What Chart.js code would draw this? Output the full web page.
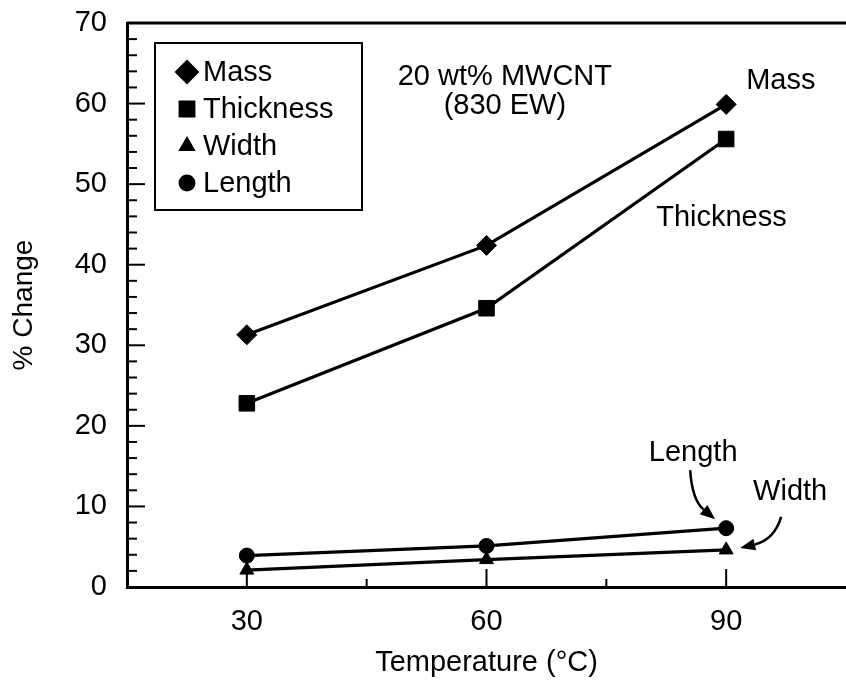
<!DOCTYPE html>
<html>
<head>
<meta charset="utf-8">
<script src="https://cdn.jsdelivr.net/npm/chart.js@4.4.0/dist/chart.umd.min.js"></script>
<style>
  html, body { margin: 0; padding: 0; background: #fff; overflow: hidden; }
  #wrap { width: 846px; height: 685px; }
  canvas { display: block; }
</style>
</head>
<body>
<div id="wrap"><canvas id="swellChart" width="846" height="685"></canvas></div>
<script>
// % change after soaking, 20 wt% MWCNT membrane
const temperatures = [30, 60, 90]
const massChange = [31.3, 42.4, 59.9]
const thicknessChange = [22.8, 34.6, 55.6]
const widthChange = [2.1, 3.4, 4.6]
const lengthChange = [3.9, 5.1, 7.3]
const xTickLabels = [30, 60, 90]
const yTickLabels = [0, 10, 20, 30, 40, 50, 60, 70]
const seriesNames = ['Mass', 'Thickness', 'Width', 'Length']

const FONT = '"Liberation Sans", Arial, Helvetica, sans-serif'
const BLACK = '#000'

const toPoints = (ys) => temperatures.map((t, i) => ({ x: t, y: ys[i] }))

function series(label, ys, style, radius) {
  return {
    label: label,
    data: toPoints(ys),
    showLine: true,
    borderColor: BLACK,
    backgroundColor: BLACK,
    borderWidth: 3.2,
    pointStyle: style,
    pointRadius: radius,
    pointBorderWidth: 1,
    pointHoverRadius: radius
  }
}

const legendSizes = { rectRot: 11, rect: 10.5, triangle: 8, circle: 7.5 }

// axes frame, inward ticks, boxed legend and the callouts
const decorations = {
  id: 'decorations',
  afterDraw(chart) {
    const { ctx, chartArea: a, scales: { x, y } } = chart
    ctx.save()
    ctx.strokeStyle = BLACK
    ctx.fillStyle = BLACK

    // top frame
    ctx.lineWidth = 3
    ctx.beginPath()
    ctx.moveTo(a.left, a.top)
    ctx.lineTo(a.right, a.top)
    ctx.stroke()

    // y ticks (minor every 2)
    ctx.lineWidth = 2
    for (let v = y.min; v <= y.max; v += 2) {
      const py = y.getPixelForValue(v)
      const len = yTickLabels.includes(v) ? 18 : 10
      ctx.beginPath()
      ctx.moveTo(a.left, py)
      ctx.lineTo(a.left + len, py)
      ctx.stroke()
    }
    // x ticks (minor halfway)
    for (let v = x.min + 15; v < x.max; v += 15) {
      const px = x.getPixelForValue(v)
      const len = xTickLabels.includes(v) ? 18 : 8
      ctx.beginPath()
      ctx.moveTo(px, a.bottom)
      ctx.lineTo(px, a.bottom - len)
      ctx.stroke()
    }

    // legend box
    const bx = a.left + 28, by = a.top + 20
    ctx.lineWidth = 2
    ctx.strokeRect(bx, by, 207, 167)
    ctx.font = '29px ' + FONT
    ctx.textBaseline = 'middle'
    ctx.textAlign = 'left'
    chart.data.datasets.forEach((ds, i) => {
      const cy = by + 29 + i * 37
      Chart.helpers.drawPoint(ctx, {
        pointStyle: ds.pointStyle,
        radius: legendSizes[ds.pointStyle],
        rotation: 0,
        borderWidth: 1
      }, bx + 32, cy)
      ctx.fill()
      ctx.fillText(ds.label, bx + 48, cy + 1)
    })

    // sample label
    ctx.textAlign = 'center'
    ctx.font = '29px ' + FONT
    ctx.fillText('20 wt% MWCNT', x.getPixelForValue(62.3), a.top + 54)
    ctx.fillText('(830 EW)', x.getPixelForValue(62.3), a.top + 83)

    // series callouts
    const last = temperatures.length - 1
    const px = x.getPixelForValue(temperatures[last])
    const mY = y.getPixelForValue(massChange[last])
    const tY = y.getPixelForValue(thicknessChange[last])
    const lY = y.getPixelForValue(lengthChange[last])
    const wY = y.getPixelForValue(widthChange[last])
    ctx.textAlign = 'left'
    ctx.fillText('Mass', px + 20, mY - 23)
    ctx.fillText('Thickness', px - 70, tY + 79)
    ctx.textAlign = 'center'
    ctx.fillText('Length', px - 33, lY - 75)
    ctx.fillText('Width', px + 64, wY - 58)

    curvedArrow(ctx, px - 36, lY - 58, px - 34, lY - 28, px - 11, lY - 9)
    curvedArrow(ctx, px + 55, wY - 33, px + 48, wY - 10, px + 14, wY - 2)

    ctx.restore()
  }
}

function curvedArrow(ctx, x0, y0, cx, cy, x1, y1) {
  const ang = Math.atan2(y1 - cy, x1 - cx)
  const head = 15, half = 6
  const bxh = x1 - Math.cos(ang) * head, byh = y1 - Math.sin(ang) * head
  ctx.lineWidth = 2.5
  ctx.beginPath()
  ctx.moveTo(x0, y0)
  ctx.quadraticCurveTo(cx, cy, bxh, byh)
  ctx.stroke()
  ctx.beginPath()
  ctx.moveTo(x1, y1)
  ctx.lineTo(bxh - Math.sin(ang) * half, byh + Math.cos(ang) * half)
  ctx.lineTo(bxh + Math.sin(ang) * half, byh - Math.cos(ang) * half)
  ctx.closePath()
  ctx.fill()
}

new Chart(document.getElementById('swellChart'), {
  type: 'scatter',
  data: {
    datasets: [
      series(seriesNames[0], massChange, 'rectRot', 10),
      series(seriesNames[1], thicknessChange, 'rect', 11),
      series(seriesNames[2], widthChange, 'triangle', 8),
      series(seriesNames[3], lengthChange, 'circle', 7.5)
    ]
  },
  options: {
    responsive: false,
    animation: false,
    layout: { autoPadding: false, padding: { top: 23, right: 0, left: 0, bottom: 0 } },
    plugins: { legend: { display: false }, tooltip: { enabled: false } },
    scales: {
      x: {
        type: 'linear',
        min: 15,
        max: 105,
        afterBuildTicks: (scale) => { scale.ticks = xTickLabels.map(v => ({ value: v })) },
        afterFit: (scale) => {
          scale.height = 98
          scale.paddingLeft = 0
          scale.paddingRight = 0
        },
        grid: { display: false, drawTicks: false },
        border: { display: true, color: BLACK, width: 3 },
        ticks: { color: BLACK, padding: 18, font: { family: FONT, size: 29 } },
        title: {
          display: true,
          text: 'Temperature (°C)',
          color: BLACK,
          font: { family: FONT, size: 29 },
          padding: { top: 0, bottom: 5 }
        }
      },
      y: {
        min: 0,
        max: 70,
        afterBuildTicks: (scale) => { scale.ticks = yTickLabels.map(v => ({ value: v })) },
        afterFit: (scale) => {
          scale.width = 127
          scale.paddingTop = 0
          scale.paddingBottom = 0
        },
        grid: { display: false, drawTicks: false },
        border: { display: true, color: BLACK, width: 3 },
        ticks: { color: BLACK, padding: 20, font: { family: FONT, size: 29 } },
        title: {
          display: true,
          text: '% Change',
          color: BLACK,
          font: { family: FONT, size: 28 },
          padding: { top: 7, bottom: 0 }
        }
      }
    }
  },
  plugins: [decorations]
})
</script>
</body>
</html>
